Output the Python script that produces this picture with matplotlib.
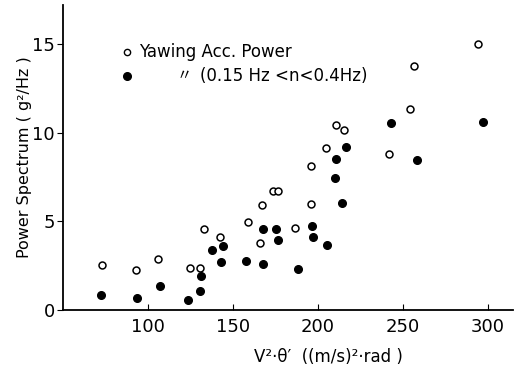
import matplotlib
matplotlib.use("Agg")
import matplotlib.pyplot as plt

# yawing acceleration power (open circles)
open_x = [73.0, 93.1, 106.0, 124.6, 130.5, 133.2, 142.6, 159.0, 166.3, 167.3,
          173.9, 176.9, 186.8, 196.0, 196.2, 205.0, 210.9, 215.7, 241.7, 254.4,
          256.6, 294.3]
open_y = [2.55, 2.26, 2.88, 2.37, 2.36, 4.56, 4.1, 4.97, 3.77, 5.9,
          6.71, 6.71, 4.63, 5.99, 8.1, 9.13, 10.45, 10.17, 8.8, 11.34,
          13.75, 15.0]

# same, band 0.15 Hz < n < 0.4 Hz (filled circles)
fill_x = [72.4, 93.7, 107.0, 123.9, 130.7, 131.3, 137.5, 143.0, 144.0, 157.7,
          167.9, 167.9, 175.3, 176.4, 188.2, 196.6, 197.2, 205.4, 210.1, 211.0,
          214.2, 216.5, 242.9, 258.2, 297.2]
fill_y = [0.83, 0.68, 1.34, 0.56, 1.09, 1.9, 3.37, 2.73, 3.62, 2.77,
          4.56, 2.58, 4.58, 3.95, 2.32, 4.71, 4.11, 3.69, 7.47, 8.51,
          6.06, 9.19, 10.55, 8.47, 10.6]

xticks = [100, 150, 200, 250, 300]
yticks = [0, 5, 10, 15]

plt.rcParams['font.family'] = ['DejaVu Sans', 'Noto Sans CJK JP']

fig = plt.figure(figsize=(5.2, 3.68), dpi=100)
ax = fig.add_axes([63/520, 1-310/368, 450/520, 305/368])

ax.plot(open_x, open_y, 'o', mfc='white', mec='black', ms=5, mew=1.1)
ax.plot(fill_x, fill_y, 'o', color='black', ms=5.5)

ax.set_xlim(50, 315)
ax.set_ylim(0, 17.2)
ax.set_xticks(xticks)
ax.set_yticks(yticks)
ax.spines['top'].set_visible(False)
ax.spines['right'].set_visible(False)
ax.spines['left'].set_linewidth(1.3)
ax.spines['bottom'].set_linewidth(1.3)
ax.tick_params(axis='x', direction='in', length=4, labelsize=13, pad=6)
ax.tick_params(axis='y', direction='out', length=4, labelsize=13, pad=2)

# legend drawn by hand
ax.plot([87.7], [14.54], 'o', mfc='white', mec='black', ms=4.5, mew=1.0, clip_on=False)
ax.plot([87.7], [13.2], 'o', color='black', ms=5.5, clip_on=False)
ax.text(94.5, 14.54, "Yawing Acc. Power", fontsize=12, va='center')
ax.text(117.0, 13.2, "〃", fontsize=11, va='center')
ax.text(130.5, 13.2, "(0.15 Hz <n<0.4Hz)", fontsize=12, va='center')

fig.text(25/520, 1-157/368, "Power Spectrum ( g²/Hz )", rotation=90,
         fontsize=11.5, ha='center', va='center')
fig.text(328/520, 1-357/368, "V²·θ′  ((m/s)²·rad )", fontsize=12,
         ha='center', va='center')

fig.savefig("out.png", dpi=100)
